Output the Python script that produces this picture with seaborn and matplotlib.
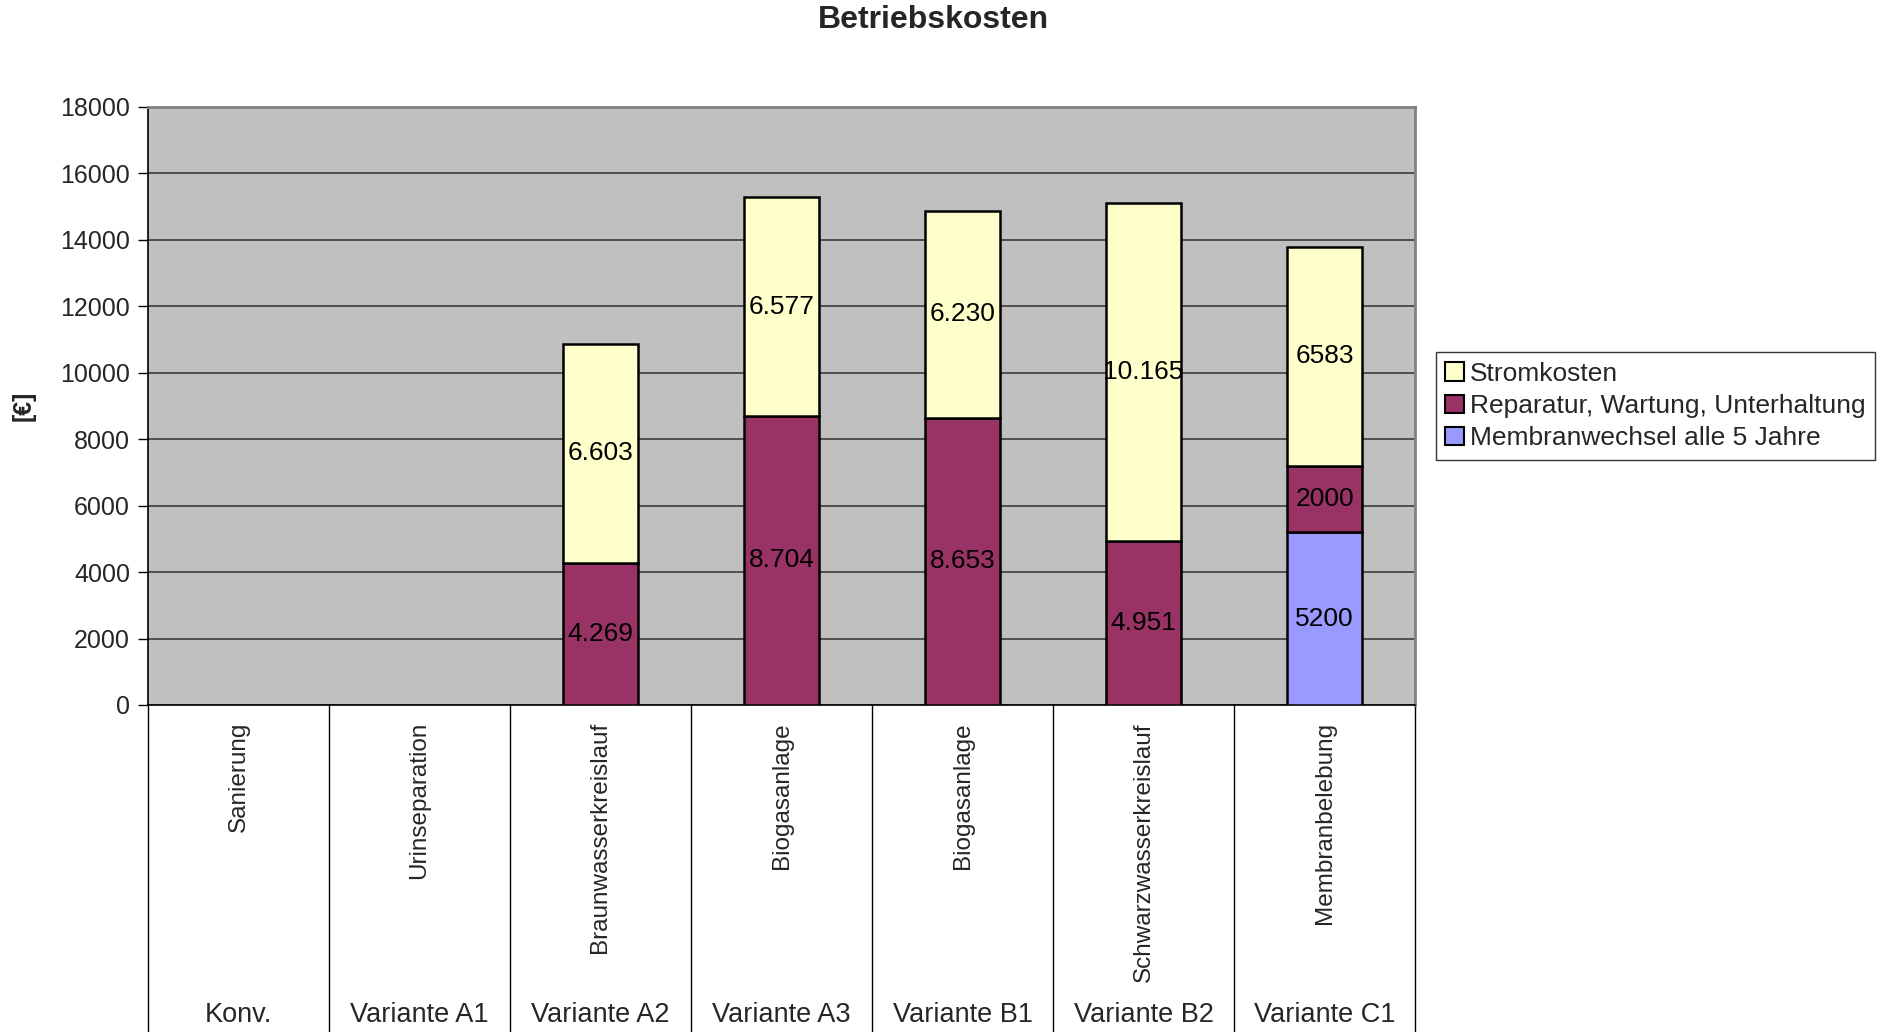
import numpy as np
import pandas as pd
import matplotlib
matplotlib.use("Agg")
import matplotlib.pyplot as plt
import matplotlib.transforms as mtransforms
from matplotlib.patches import Patch
import seaborn as sns

# Categories (two-line axis labels) and cost components in EUR
variants = ["Konv.", "Variante A1", "Variante A2", "Variante A3",
            "Variante B1", "Variante B2", "Variante C1"]
systems = ["Sanierung", "Urinseparation", "Braunwasserkreislauf", "Biogasanlage",
           "Biogasanlage", "Schwarzwasserkreislauf", "Membranbelebung"]
membranwechsel = [0, 0, 0, 0, 0, 0, 5200]
reparatur = [0, 0, 4269, 8704, 8653, 4951, 2000]
stromkosten = [0, 0, 6603, 6577, 6230, 10165, 6583]
# variants whose value labels are written without thousands separator
plain_number_variants = ["Variante C1"]

series_names = ["Membranwechsel alle 5 Jahre",
                "Reparatur, Wartung, Unterhaltung",
                "Stromkosten"]
series_values = [membranwechsel, reparatur, stromkosten]
series_colors = ["#9999FF", "#993366", "#FFFFCC"]

sns.set_style("ticks")
plt.rcParams["font.family"] = ["Liberation Sans", "DejaVu Sans"]

fig = plt.figure(figsize=(18.92, 10.32), dpi=100)
ax = fig.add_axes([148 / 1892, 1 - 705 / 1032, (1415 - 148) / 1892, (705 - 107) / 1032])
ax.set_facecolor("#C0C0C0")


def fmt_label(value, variant):
    if variant in plain_number_variants:
        return f"{int(value)}"
    return f"{int(value):,}".replace(",", ".")


bottom = np.zeros(len(variants))
for name, vals, color in zip(series_names, series_values, series_colors):
    vals = np.asarray(vals, dtype=float)
    mask = vals > 0
    df = pd.DataFrame({"Variante": np.array(variants)[mask], "Kosten": vals[mask]})
    sns.barplot(data=df, x="Variante", y="Kosten", order=variants, color=color,
                saturation=1, width=0.41, errorbar=None, bottom=bottom[mask],
                edgecolor="black", linewidth=1.8, ax=ax, zorder=3)
    cont = ax.containers[-1]
    labels = [fmt_label(v, var) for v, var in zip(vals[mask], np.array(variants)[mask])]
    ax.bar_label(cont, labels=labels, label_type="center", fontsize=19, color="black")
    bottom = bottom + vals

# y axis
ax.set_ylim(0, 18000)
ax.set_yticks(np.arange(0, 18001, 2000))
ax.yaxis.grid(True, color="#303030", linewidth=1.1, zorder=0)
ax.set_axisbelow(True)
ax.tick_params(axis="y", direction="out", length=7, width=1, color="black",
               labelsize=18, pad=6)
ax.set_ylabel("")
ax.set_xlabel("")
ax.set_xlim(-0.5, len(variants) - 0.5)

# x axis: hide default labels, draw two-line category labels manually
ax.set_xticks(range(len(variants)))
ax.tick_params(axis="x", length=0, labelbottom=False)

for sp in ["left", "bottom"]:
    ax.spines[sp].set_color("black")
    ax.spines[sp].set_linewidth(1.2)
for sp in ["top", "right"]:
    ax.spines[sp].set_visible(True)
    ax.spines[sp].set_color("#808080")
    ax.spines[sp].set_linewidth(2)

trans = mtransforms.blended_transform_factory(ax.transData, ax.transAxes)
axes_h_px = 705 - 107
low = -(1032 - 705) / axes_h_px
for b in np.arange(-0.5, len(variants)):
    ax.plot([b, b], [0, low], transform=trans, clip_on=False, color="black", lw=1)

for i, (var, sysname) in enumerate(zip(variants, systems)):
    ax.text(i, -17 / axes_h_px, sysname, transform=trans, rotation=90,
            ha="center", va="top", fontsize=17.5)
    ax.text(i, -(1015 - 705) / axes_h_px, var, transform=trans,
            ha="center", va="center", fontsize=19.5)

# title and axis label
fig.text(0.4935, 1 - 20 / 1032, "Betriebskosten", ha="center", va="center",
         fontsize=23, fontweight="bold")
fig.text(24 / 1892, 1 - 406 / 1032, "[€]", ha="center", va="center",
         rotation=90, fontsize=18, fontweight="bold")

# legend (top-down order of the stack)
handles = [Patch(facecolor=c, edgecolor="black", linewidth=1.5)
           for c in series_colors[::-1]]
leg = fig.legend(handles, series_names[::-1], loc="center left",
                 bbox_to_anchor=(1436 / 1892, 1 - 406 / 1032),
                 fontsize=19, frameon=True, fancybox=False, edgecolor="black",
                 handlelength=0.7, handleheight=0.7, handletextpad=0.25,
                 labelspacing=0.32, borderpad=0.35, borderaxespad=0)
leg.get_frame().set_linewidth(1)

fig.savefig("out.png", dpi=100, facecolor="white")
